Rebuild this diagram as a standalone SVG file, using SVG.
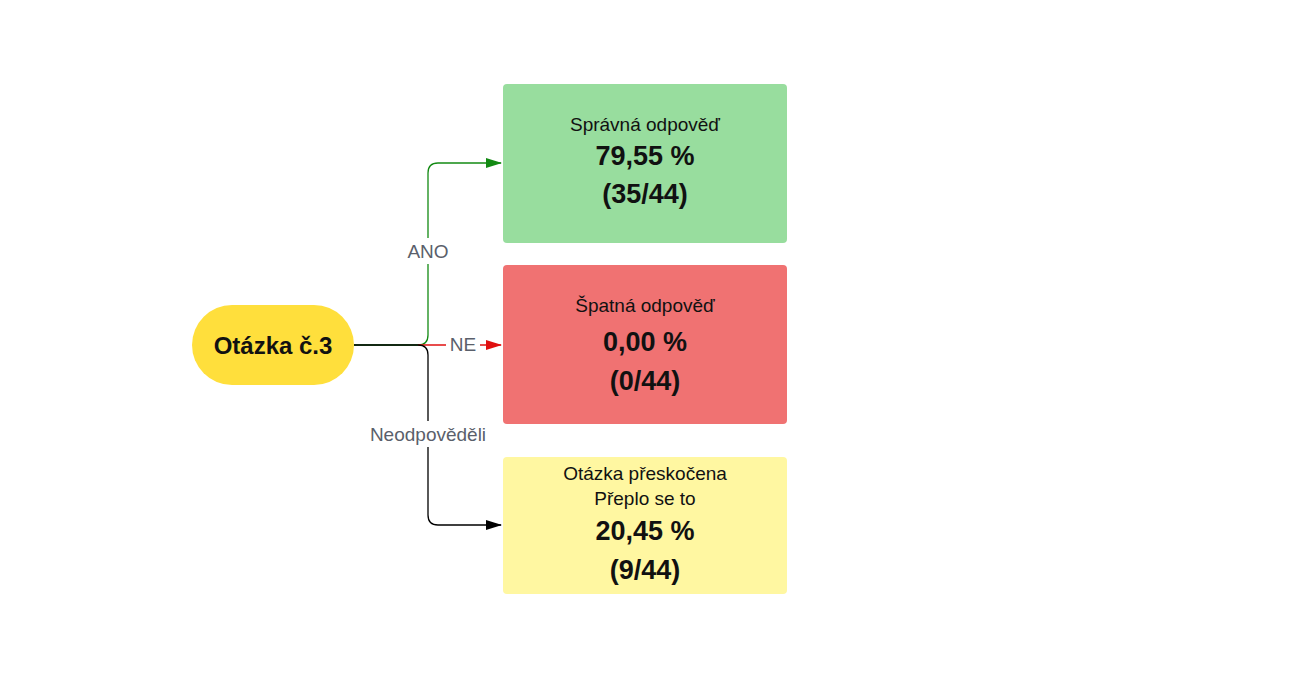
<svg xmlns="http://www.w3.org/2000/svg" width="1300" height="700" viewBox="0 0 1300 700">
<style>
text{font-family:"Liberation Sans",Arial,sans-serif;text-anchor:middle;fill:#111}
.s{font-size:19px}
.b{font-size:27px;font-weight:bold}
.l{font-size:19px;fill:#5a5f6b}
.c{fill:none;stroke-width:1.3}
</style>
<defs>
<marker id="ag" markerWidth="16" markerHeight="12" refX="15" refY="6" orient="auto" markerUnits="userSpaceOnUse"><path d="M0,1 L16,6 L0,11Z" fill="#138a13"/></marker>
<marker id="ar" markerWidth="16" markerHeight="12" refX="15" refY="6" orient="auto" markerUnits="userSpaceOnUse"><path d="M0,1 L16,6 L0,11Z" fill="#e01010"/></marker>
<marker id="ak" markerWidth="16" markerHeight="12" refX="15" refY="6" orient="auto" markerUnits="userSpaceOnUse"><path d="M0,1 L16,6 L0,11Z" fill="#000"/></marker>
</defs>
<rect width="1300" height="700" fill="#fff"/>
<g id="connectors">
<path class="c" stroke="#138a13" d="M354,345 H418 Q428,345 428,335 V173 Q428,163 438,163 H501" marker-end="url(#ag)"/>
<path class="c" stroke="#e01010" d="M418,345 H501" marker-end="url(#ar)"/>
<path class="c" stroke="#000" d="M354,345 H418 Q428,345 428,355 V515 Q428,525 438,525 H501" marker-end="url(#ak)"/>
<rect x="398" y="238" width="60" height="26" fill="#fff"/>
<text class="l" x="428" y="258">ANO</text>
<rect x="446" y="332" width="34" height="24" fill="#fff"/>
<text class="l" x="463" y="351">NE</text>
<rect x="358" y="421" width="140" height="26" fill="#fff"/>
<text class="l" x="428" y="441">Neodpověděli</text>
</g>
<g id="q"><rect x="192" y="305" width="162" height="80" rx="40" fill="#ffdf3c"/><text x="273" y="354" style="font-size:24px;font-weight:bold">Otázka č.3</text></g>
<g id="ok"><rect x="503" y="84" width="284" height="159" rx="4" fill="#98dd9e"/><text class="s" x="645" y="131">Správná odpověď</text><text class="b" x="645" y="165">79,55 %</text><text class="b" x="645" y="203">(35/44)</text></g>
<g id="bad"><rect x="503" y="265" width="284" height="159" rx="4" fill="#f07272"/><text class="s" x="645" y="312">Špatná odpověď</text><text class="b" x="645" y="351">0,00 %</text><text class="b" x="645" y="390">(0/44)</text></g>
<g id="skip"><rect x="503" y="457" width="284" height="137" rx="4" fill="#fff7a1"/><text class="s" x="645" y="480">Otázka přeskočena</text><text class="s" x="645" y="505">Přeplo se to</text><text class="b" x="645" y="540">20,45 %</text><text class="b" x="645" y="579">(9/44)</text></g>
</svg>
